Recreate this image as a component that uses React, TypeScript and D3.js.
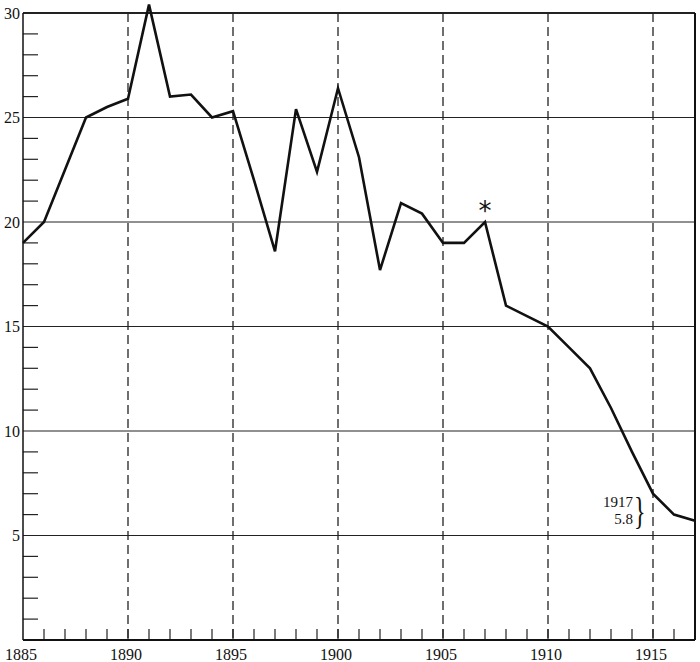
import React from "react";
import * as d3 from "d3";

const years = [1885, 1886, 1887, 1888, 1889, 1890, 1891, 1892, 1893, 1894, 1895, 1896, 1897, 1898, 1899, 1900, 1901, 1902, 1903, 1904, 1905, 1906, 1907, 1908, 1909, 1910, 1911, 1912, 1913, 1914, 1915, 1916, 1917];
const values = [19.0, 20.0, 22.5, 25.0, 25.5, 25.9, 30.4, 26.0, 26.1, 25.0, 25.3, 22.0, 18.6, 25.4, 22.4, 26.4, 23.1, 17.7, 20.9, 20.4, 19.0, 19.0, 20.0, 16.0, 15.5, 15.0, 14.0, 13.0, 11.1, 9.0, 7.0, 6.0, 5.7];
const yMajorTicks = [5, 10, 15, 20, 25, 30];
const yMinorTicks = [1, 2, 3, 4, 6, 7, 8, 9, 11, 12, 13, 14, 16, 17, 18, 19, 21, 22, 23, 24, 26, 27, 28, 29];
const xLabelYears = [1885, 1890, 1895, 1900, 1905, 1910, 1915];
const xDashedYears = [1890, 1895, 1900, 1905, 1910, 1915];
const xMinorYears = d3.range(1886, 1917);
const noteYear = 1907;
const endLabel = ["1917", "5.8"];

export default function App() {
  const W = 700, H = 662;
  const x = d3.scaleLinear().domain([1885, 1917]).range([23, 695]);
  const y = d3.scaleLinear().domain([0, 30]).range([640, 13]);
  const line = d3.line<number>().x((_, i) => x(years[i])).y((d) => y(d));
  const font = "'Liberation Serif', 'DejaVu Serif', serif";
  const noteIdx = years.indexOf(noteYear);
  const labX = x(1915) - 20;
  const labY = y(values[values.length - 1]);

  return (
    <svg width={W} height={H} style={{ position: "absolute", left: 0, top: 0, background: "#fff" }}>
      {yMajorTicks.map((t) => (
        <line key={"h" + t} x1={x(1885)} x2={x(1917)} y1={y(t)} y2={y(t)}
          stroke="#222" strokeWidth={t === 30 ? 2 : 1.1} />
      ))}
      {xDashedYears.map((yr) => (
        <line key={"v" + yr} x1={x(yr)} x2={x(yr)} y1={y(30)} y2={y(0)}
          stroke="#222" strokeWidth={1.3} strokeDasharray="9,5" />
      ))}
      {yMinorTicks.map((t) => (
        <line key={"ym" + t} x1={x(1885)} x2={x(1885) + 15} y1={y(t)} y2={y(t)} stroke="#222" strokeWidth={1.2} />
      ))}
      {xMinorYears.map((yr) => (
        <line key={"xm" + yr} x1={x(yr)} x2={x(yr)} y1={y(0)} y2={y(0) - 11} stroke="#222" strokeWidth={1.2} />
      ))}
      <line x1={x(1885)} x2={x(1885)} y1={y(30)} y2={y(0)} stroke="#111" strokeWidth={1.5} />
      <line x1={x(1885)} x2={x(1917)} y1={y(0)} y2={y(0)} stroke="#111" strokeWidth={2} />
      <line x1={x(1917)} x2={x(1917)} y1={y(30)} y2={y(0)} stroke="#111" strokeWidth={2} />
      <path d={line(values) || ""} fill="none" stroke="#111" strokeWidth={2.6} strokeLinejoin="miter" />
      {yMajorTicks.map((t) => (
        <text key={"yl" + t} x={x(1885) - 3} y={y(t)} dy="0.35em" textAnchor="end"
          fontFamily={font} fontSize={16} fill="#111">{t}</text>
      ))}
      {xLabelYears.map((yr) => (
        <text key={"xl" + yr} x={x(yr) - 2} y={660} textAnchor="middle"
          fontFamily={font} fontSize={16} fill="#111">{yr}</text>
      ))}
      <text x={x(noteYear)} y={y(values[noteIdx]) - 2} textAnchor="middle"
        fontFamily="'DejaVu Sans', sans-serif" fontSize={26} fill="#111">*</text>
      <text x={labX} y={labY - 14} textAnchor="end"
        fontFamily={font} fontSize={15} fill="#111">{endLabel[0]}</text>
      <text x={labX} y={labY + 3} textAnchor="end"
        fontFamily={font} fontSize={15} fill="#111">{endLabel[1]}</text>
      <text transform={`translate(${labX + 1},${labY + 3}) scale(0.8,1.25)`} textAnchor="start"
        fontFamily={font} fontSize={30} fill="#111">{"}"}</text>
    </svg>
  );
}
